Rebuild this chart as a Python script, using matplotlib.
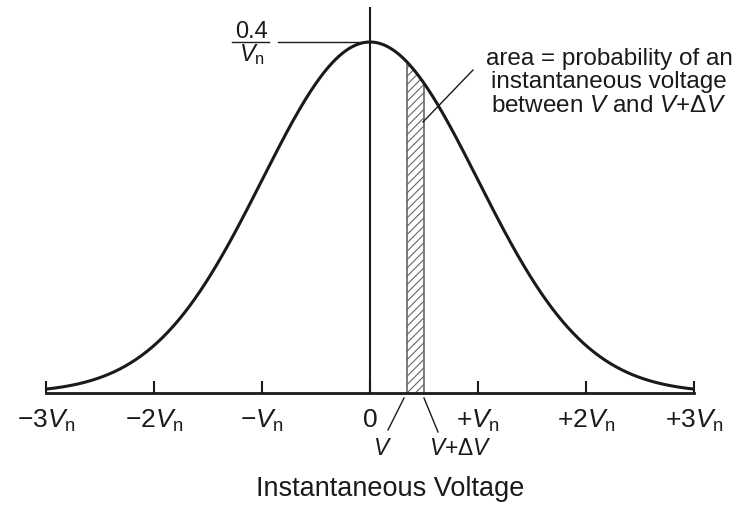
import numpy as np
import matplotlib
matplotlib.use("Agg")
import matplotlib.pyplot as plt

plt.rcParams['font.family'] = ['Liberation Sans', 'DejaVu Sans']
plt.rcParams['mathtext.fontset'] = 'custom'
plt.rcParams['mathtext.rm'] = 'Liberation Sans'
plt.rcParams['mathtext.it'] = 'Liberation Sans:italic'
plt.rcParams['mathtext.sf'] = 'Liberation Sans'
plt.rcParams['hatch.linewidth'] = 0.8
plt.rcParams['hatch.color'] = '#666666'

# Data
mean = 0.0
sigma = 1.0           # V_n
x_min, x_max = -3.0, 3.0
tick_positions = [-3, -2, -1, 0, 1, 2, 3]
tick_labels = [r'$-3V_{\rm n}$', r'$-2V_{\rm n}$', r'$-V_{\rm n}$', '0',
               r'$+V_{\rm n}$', r'$+2V_{\rm n}$', r'$+3V_{\rm n}$']
strip_lo, strip_hi = 0.34, 0.50   # V and V+dV
peak_num = '0.4'
peak_den = r'$V_{\rm n}$'
area_lines = ['area = probability of an', 'instantaneous voltage',
              'between $V$ and $V$+$\\Delta V$']
v_label = '$V$'
vdv_label = r'$V$+$\Delta V$'
xlabel = 'Instantaneous Voltage'

INK = '#1a1a1a'

x = np.linspace(x_min, x_max, 601)
pdf = np.exp(-0.5 * ((x - mean) / sigma) ** 2) / (sigma * np.sqrt(2 * np.pi))
peak = 1 / (sigma * np.sqrt(2 * np.pi))

W, H = 741, 511
AX_Y0 = 393       # pixel row of baseline (from top)
PEAK_PX = 351     # pixel height of peak above baseline
X0_PX, UNIT_PX = 370, 108

fig = plt.figure(figsize=(W / 100, H / 100), dpi=100)
ax = fig.add_axes([46 / W, (H - AX_Y0) / H, 648 / W, 386 / H])
ax.set_xlim(x_min, x_max)
ax.set_ylim(0, peak * 386 / PEAK_PX)


def px2x(px):
    return (px - X0_PX) / UNIT_PX


def px2y(py):
    return peak * (AX_Y0 - py) / PEAK_PX


ax.plot(x, pdf, color=INK, lw=2.2, solid_capstyle='butt', zorder=3)

# vertical line at 0
ax.axvline(0, color=INK, lw=1.5, zorder=2)

# hatched strip
xs = np.linspace(strip_lo, strip_hi, 50)
ys = np.exp(-0.5 * ((xs - mean) / sigma) ** 2) / (sigma * np.sqrt(2 * np.pi))
ax.fill_between(xs, 0, ys, facecolor='white', edgecolor='#666666', hatch='////',
                lw=0, zorder=1)
ax.plot([strip_lo, strip_lo], [0, ys[0]], color='#666666', lw=1.2, zorder=1)
ax.plot([strip_hi, strip_hi], [0, ys[-1]], color='#666666', lw=1.2, zorder=1)

for s in ['top', 'right', 'left']:
    ax.spines[s].set_visible(False)
ax.spines['bottom'].set_linewidth(2.0)
ax.spines['bottom'].set_color(INK)
ax.set_yticks([])
ax.set_xticks(tick_positions)
ax.set_xticklabels(tick_labels, fontsize=19)
ax.tick_params(axis='x', direction='in', length=9, width=1.5, pad=11,
               colors=INK)

# peak label with fraction bar and leader line
ax.plot([px2x(278), 0], [peak, peak], color=INK, lw=1.0, clip_on=False)
ax.plot([px2x(232), px2x(269)], [px2y(42), px2y(42)], color=INK, lw=1.0,
        clip_on=False)
ax.text(px2x(251.5), px2y(38), peak_num, fontsize=17, ha='center',
        va='baseline', color=INK)
ax.text(px2x(251.5), px2y(61), peak_den, fontsize=17, ha='center',
        va='baseline', color=INK)

# area annotation
for line, by in zip(area_lines, [65, 88, 112]):
    ax.text(px2x(609), px2y(by), line, fontsize=17.5, ha='center',
            va='baseline', color=INK)
ax.plot([px2x(473), px2x(423)], [px2y(70), px2y(122)], color=INK, lw=1.0,
        clip_on=False, zorder=4)

# V and V+dV leader lines below the axis
ax.plot([px2x(404), px2x(388)], [px2y(398), px2y(430)], color=INK, lw=1.0,
        clip_on=False)
ax.plot([px2x(424), px2x(438)], [px2y(398), px2y(432)], color=INK, lw=1.0,
        clip_on=False)
ax.text(px2x(383), px2y(455), v_label, fontsize=16.5, ha='center',
        va='baseline', color=INK)
ax.text(px2x(460), px2y(455), vdv_label, fontsize=16.5, ha='center',
        va='baseline', color=INK)

ax.text(px2x(390), px2y(496), xlabel, fontsize=19.5, ha='center',
        va='baseline', color=INK)

fig.savefig('out.png', dpi=100, facecolor='white')
